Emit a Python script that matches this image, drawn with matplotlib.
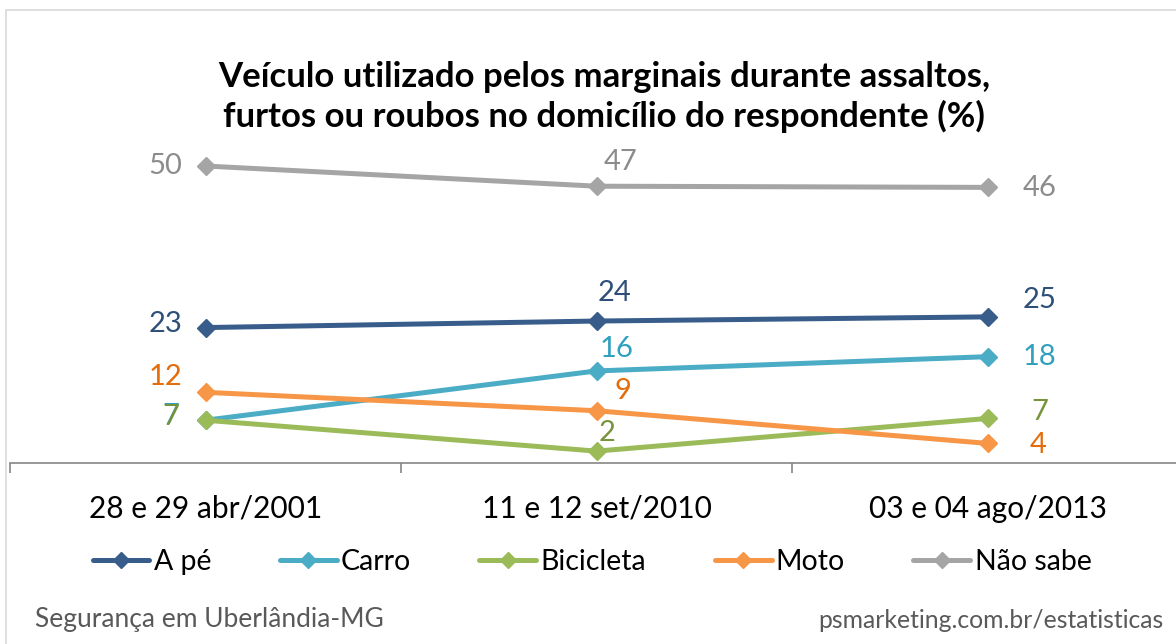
import matplotlib.pyplot as plt
from matplotlib.patches import Rectangle

plt.rcParams['font.family'] = ['Lato', 'DejaVu Sans']

# data
periods = ['28 e 29 abr/2001', '11 e 12 set/2010', '03 e 04 ago/2013']
series_names = ['A pé', 'Carro', 'Bicicleta', 'Moto', 'Não sabe']
a_pe = [22.8, 23.9, 24.6]
carro = [7.2, 15.5, 17.9]
bicicleta = [7.2, 2.0, 7.5]
moto = [11.9, 8.8, 3.3]
nao_sabe = [50.0, 46.6, 46.4]
labels_a_pe = ['23', '24', '25']
labels_carro = ['7', '16', '18']
labels_bicicleta = ['7', '2', '7']
labels_moto = ['12', '9', '4']
labels_nao_sabe = ['50', '47', '46']

line_colors = ['#385D8A', '#4BACC6', '#9BBB59', '#F79646', '#A5A5A5']
text_colors = ['#2E4F78', '#31A0BE', '#77933C', '#E46C0A', '#8C8C8C']

# label offsets in pixels (dx, dy, ha) per point
offsets = [
    [(-23, 4, 'right'), (18, 28, 'center'), (52, 17, 'center')],
    [(-26, 4, 'right'), (20, 22, 'center'), (52, 0, 'center')],
    [(-26, 3, 'right'), (11, 18, 'center'), (52, 6, 'center')],
    [(-23, 15, 'right'), (18, 20, 'left'), (42, -2, 'left')],
    [(-23, 0, 'right'), (24, 24, 'center'), (52, -1, 'center')],
]

W, H = 1176, 644
fig = plt.figure(figsize=(W / 100, H / 100), dpi=100)
fig.patches.append(Rectangle((6 / W, -0.1), 1.2, 1 - 10 / H + 0.1, transform=fig.transFigure,
                             fill=False, edgecolor='#D9D9D9', linewidth=1.2))

ax = fig.add_axes([10 / W, 1 - 463 / H, 1173 / W, (463 - 166) / H])
ax.set_xlim(-0.5, 2.5)
ax.set_ylim(0, 50)

x = range(len(periods))
all_vals = [a_pe, carro, bicicleta, moto, nao_sabe]
all_labels = [labels_a_pe, labels_carro, labels_bicicleta, labels_moto, labels_nao_sabe]
order = [4, 0, 1, 2, 3]
handles = {}
for i in order:
    h, = ax.plot(x, all_vals[i], color=line_colors[i], lw=3.6, marker='D', markersize=9,
                 clip_on=False, solid_capstyle='round', zorder=3 + i * 0.1)
    handles[i] = h
    for j, (v, lab) in enumerate(zip(all_vals[i], all_labels[i])):
        dx, dy, ha = offsets[i][j]
        ax.annotate(lab, (j, v), xytext=(dx, dy), textcoords='offset pixels',
                    ha=ha, va='center', fontsize=21, color=text_colors[i])

for s in ['top', 'left', 'right']:
    ax.spines[s].set_visible(False)
ax.spines['bottom'].set_color('#868686')
ax.spines['bottom'].set_linewidth(1.2)
ax.set_yticks([])
ax.set_xticks(list(x))
ax.set_xticklabels(periods, fontsize=21.5)
ax.tick_params(axis='x', which='major', length=0, pad=23)
ax.set_xticks([-0.5, 0.5, 1.5, 2.5], minor=True)
ax.tick_params(axis='x', which='minor', length=7, color='#868686', width=1.2)

fig.text(604 / W, 1 - 97 / H,
         'Veículo utilizado pelos marginais durante assaltos,\nfurtos ou roubos no domicílio do respondente (%)',
         ha='center', va='center', fontsize=25, fontweight='bold', linespacing=1.25)

fig.legend([handles[i] for i in range(5)], series_names, loc='center', ncol=5,
           bbox_to_anchor=(592 / W, 1 - 562 / H), frameon=False, fontsize=20.5,
           handlelength=2.0, handletextpad=0.15, columnspacing=2.4, markerscale=0.9)

fig.text(35 / W, 1 - 620 / H, 'Segurança em Uberlândia-MG', ha='left', va='center',
         fontsize=19, color='#595959')
fig.text(1163 / W, 1 - 620 / H, 'psmarketing.com.br/estatisticas', ha='right', va='center',
         fontsize=17.8, color='#595959')

fig.savefig('out.png', dpi=100)
